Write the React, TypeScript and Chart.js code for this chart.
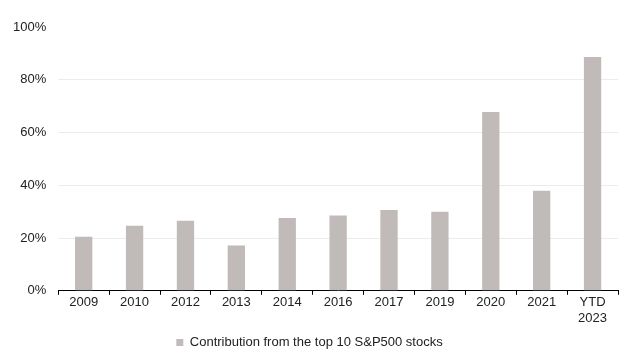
import React, { useEffect, useRef } from "react";
import { Chart, registerables } from "chart.js";

Chart.register(...registerables);

const categories: (string | string[])[] = ["2009", "2010", "2012", "2013", "2014", "2016", "2017", "2019", "2020", "2021", ["YTD", "2023"]];
const contribution: number[] = [20.5, 24.7, 26.6, 17.2, 27.6, 28.5, 30.6, 30.0, 67.8, 37.9, 88.6];
const seriesLabel = "Contribution from the top 10 S&P500 stocks";
const yTicks: number[] = [0, 20, 40, 60, 80, 100];

export default function App() {
  const ref = useRef<HTMLCanvasElement | null>(null);
  useEffect(() => {
    if (!ref.current) return;
    const font = { family: "Liberation Sans, Arial", size: 13 };
    const chart = new Chart(ref.current, {
      type: "bar",
      data: {
        labels: categories,
        datasets: [
          {
            label: seriesLabel,
            data: contribution,
            backgroundColor: "#c0bbb8",
            borderWidth: 0,
            barPercentage: 0.34,
            categoryPercentage: 1,
          },
        ],
      },
      options: {
        responsive: false,
        animation: false,
        layout: { padding: { left: 1, right: 22, top: 27, bottom: 0 } },
        plugins: {
          tooltip: { enabled: false },
          legend: {
            position: "bottom",
            labels: {
              boxWidth: 7,
              boxHeight: 7,
              color: "#222",
              font,
              padding: 10,
            },
          },
        },
        scales: {
          x: {
            border: { color: "#000", width: 1 },
            grid: { drawOnChartArea: false, drawTicks: true, tickLength: 4, color: "#000", offset: true },
            ticks: { color: "#222", font, padding: 0, maxRotation: 0, autoSkip: false },
          },
          y: {
            min: 0,
            max: 100,
            afterBuildTicks: (axis: any) => {
              axis.ticks = yTicks.map((v) => ({ value: v }));
            },
            border: { display: false },
            grid: {
              drawTicks: false,
              color: (ctx: any) => (ctx.tick && (ctx.tick.value === 100 || ctx.tick.value === 0) ? "rgba(0,0,0,0)" : "#ececec"),
            },
            ticks: {
              color: "#222",
              font,
              padding: 12,
              callback: (v: any) => v + "%",
            },
          },
        },
      },
    });
    return () => chart.destroy();
  }, []);
  return (
    <div style={{ position: "fixed", left: 0, top: 0, width: 640, height: 359, background: "#fff" }}>
      <canvas ref={ref} width={640} height={359} style={{ width: 640, height: 359 }} />
    </div>
  );
}
